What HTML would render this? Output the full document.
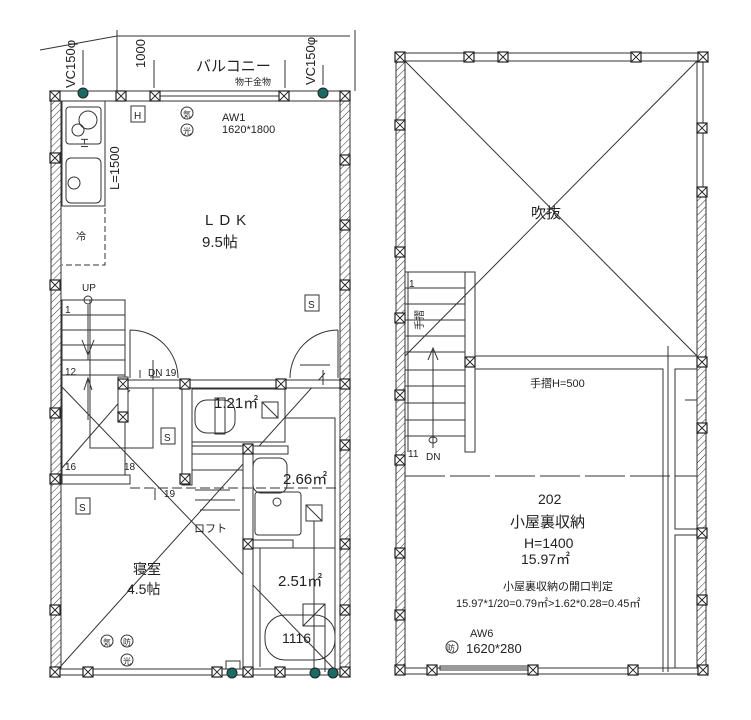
<!DOCTYPE html>
<html><head><meta charset="utf-8"><style>
html,body{margin:0;padding:0;background:#fff}
svg{display:block}
text{font-family:"Liberation Sans","Noto Sans CJK JP",sans-serif;fill:#222}
</style></head><body>
<svg width="751" height="720" viewBox="0 0 751 720" xmlns="http://www.w3.org/2000/svg">
<defs>
<pattern id="h" width="5" height="5" patternUnits="userSpaceOnUse" patternTransform="rotate(45)">
<rect width="5" height="5" fill="#fff"/><line x1="0" y1="0" x2="0" y2="5" stroke="#333" stroke-width="1"/></pattern>
<g id="p"><rect x="-5" y="-5" width="10" height="10" fill="#fff" stroke="#222" stroke-width="1.2"/><path d="M-5-5L5 5M5-5L-5 5" stroke="#222" stroke-width="0.9"/></g>
</defs>
<g stroke="#333" fill="none" stroke-width="1">
<path d="M40 50L117 36L350 36M117 30V91M355 30V91"/>
<line x1="154" y1="60" x2="154" y2="88"/><line x1="285" y1="60" x2="285" y2="88"/>
<line x1="83" y1="50" x2="83" y2="85"/><line x1="323" y1="65" x2="323" y2="85"/>
<rect x="50" y="91" width="300" height="10" fill="#fff"/>
<line x1="160" y1="96" x2="280" y2="96"/>
<rect x="51" y="101" width="10" height="570" fill="url(#h)"/>
<rect x="340" y="101" width="10" height="570" fill="url(#h)"/>
<rect x="50" y="669" width="300" height="6" fill="#fff"/>
<rect x="62" y="101" width="43" height="105"/>
<rect x="66" y="107" width="35" height="37" rx="3"/>
<circle cx="88" cy="120" r="9"/><circle cx="78" cy="130" r="6"/>
<rect x="66" y="158" width="35" height="45" rx="5"/>
<circle cx="74" cy="183" r="6"/>
<path d="M62 206H105V265H62" stroke-dasharray="6 3"/>
<line x1="105" y1="101" x2="105" y2="206"/>
<rect x="131" y="106" width="14" height="16"/>
<rect x="305" y="295" width="14" height="16"/>
<circle cx="187" cy="113" r="6"/><circle cx="187" cy="130" r="6"/>
<rect x="62" y="300" width="63" height="175"/>
<path d="M62 315H125M62 330H125M62 345H125M62 360H125M62 375H125M90 360V448H153V360"/>
<line x1="90" y1="300" x2="90" y2="448"/>
<path d="M88 305V360M82 340L88 355L94 340M88 420V380M84 390L88 378L92 390"/>
<circle cx="88" cy="300" r="4"/>
<path d="M62 468L130 390M62 387L335 670M60 667L325 373"/>
<rect x="62" y="475" width="68" height="9" fill="#fff"/>
<rect x="118" y="377" width="10" height="45" fill="#fff"/>
<path d="M130 330A48 48 0 0 1 178 378M130 330V378"/>
<path d="M338 330A48 48 0 0 0 290 378M338 330V378"/>
<rect x="122" y="380" width="225" height="8" fill="#fff"/>
<rect x="182" y="388" width="10" height="97" fill="#fff"/>
<rect x="192" y="389" width="93" height="53"/>
<rect x="192" y="446" width="96" height="8" fill="#fff"/>
<rect x="243" y="454" width="10" height="216" fill="#fff"/>
<rect x="253" y="540" width="40" height="8" fill="#fff"/>
<rect x="195" y="400" width="40" height="33" rx="12"/>
<rect x="215" y="398" width="10" height="36"/>
<path d="M285 418H335V670M293 548H335M260 548V667"/>
<path d="M192 470H243M195 490H230M195 500H235M200 510H240"/>
<path d="M130 488H340" stroke-dasharray="10 4"/>
<rect x="253" y="458" width="34" height="35" rx="8"/>
<rect x="255" y="492" width="46" height="43" rx="3"/>
<circle cx="277" cy="502" r="4"/>
<rect x="306" y="505" width="16" height="16"/><path d="M306 505L322 521"/>
<rect x="262" y="402" width="16" height="16"/><path d="M262 402L278 418"/>
<rect x="303" y="604" width="22" height="22"/><path d="M303 626L325 604M314 521V672M325 626V672"/>
<rect x="265" y="615" width="70" height="45" rx="20"/>
<rect x="161" y="428" width="14" height="16"/>
<rect x="76" y="498" width="14" height="16"/>
<circle cx="107" cy="641" r="6"/><circle cx="127" cy="641" r="6"/><circle cx="127" cy="660" r="6"/>
<rect x="226" y="661" width="14" height="8"/>
<path d="M300 365L330 365M323 370V385M140 378V370M150 377H160M155 488V500"/>
</g>
<g>
<use href="#p" x="55" y="96"/><use href="#p" x="121" y="96"/><use href="#p" x="155" y="96"/><use href="#p" x="284" y="96"/><use href="#p" x="345" y="96"/>
<use href="#p" x="55" y="158"/><use href="#p" x="345" y="160"/><use href="#p" x="345" y="225"/><use href="#p" x="55" y="285"/><use href="#p" x="345" y="285"/>
<use href="#p" x="123" y="384"/><use href="#p" x="185" y="384"/><use href="#p" x="281" y="384"/><use href="#p" x="345" y="384"/>
<use href="#p" x="123" y="417"/><use href="#p" x="55" y="413"/><use href="#p" x="345" y="445"/><use href="#p" x="248" y="449"/>
<use href="#p" x="185" y="479"/><use href="#p" x="55" y="479"/><use href="#p" x="248" y="544"/><use href="#p" x="345" y="544"/>
<use href="#p" x="55" y="610"/><use href="#p" x="345" y="610"/>
<use href="#p" x="55" y="672"/><use href="#p" x="88" y="672"/><use href="#p" x="217" y="672"/><use href="#p" x="248" y="672"/><use href="#p" x="280" y="672"/><use href="#p" x="345" y="672"/>
</g>
<g fill="#1a6a66" stroke="#222"><circle cx="83" cy="93" r="5"/><circle cx="323" cy="93" r="5"/><circle cx="232" cy="673" r="5"/><circle cx="315" cy="673" r="5"/><circle cx="333" cy="673" r="5"/></g>
<text font-size="13" transform="translate(75,88) rotate(-90)">VC150φ</text>
<text font-size="13" transform="translate(315,85) rotate(-90)">VC150φ</text>
<text font-size="13" transform="translate(145,68) rotate(-90)">1000</text>
<text x="196" y="71" font-size="15">バルコニー</text>
<text x="235" y="85" font-size="9">物干金物</text>
<text x="134" y="119" font-size="10">H</text>
<text x="183" y="117" font-size="8">気</text><text x="183" y="134" font-size="8">光</text>
<text x="222" y="121" font-size="11">AW1</text>
<text x="222" y="133" font-size="11">1620*1800</text>
<text font-size="13" transform="translate(119,190) rotate(-90)">L=1500</text>
<text font-size="10" transform="translate(88,148) rotate(-90)">IH</text>
<text x="76" y="240" font-size="10">冷</text>
<text x="205" y="225" font-size="15" letter-spacing="6">LDK</text>
<text x="202" y="247" font-size="15">9.5帖</text>
<text x="308" y="308" font-size="10">S</text>
<text x="82" y="291" font-size="10">UP</text>
<text x="65" y="313" font-size="10">1</text>
<text x="65" y="375" font-size="10">12</text>
<text x="148" y="376" font-size="10">DN 19</text>
<text x="65" y="470" font-size="10">16</text>
<text x="124" y="470" font-size="10">18</text>
<text x="164" y="497" font-size="10">19</text>
<text x="164" y="441" font-size="10">S</text>
<text x="79" y="511" font-size="10">S</text>
<text x="214" y="408" font-size="15">1.21㎡</text>
<text x="283" y="484" font-size="15">2.66㎡</text>
<text x="278" y="586" font-size="15">2.51㎡</text>
<text x="282" y="643" font-size="14">1116</text>
<text x="194" y="532" font-size="11">ロフト</text>
<text x="133" y="574" font-size="14">寝室</text>
<text x="127" y="594" font-size="14">4.5帖</text>
<text x="103" y="645" font-size="8">気</text><text x="123" y="645" font-size="8">防</text><text x="123" y="664" font-size="8">光</text>

<g stroke="#333" fill="none" stroke-width="1">
<rect x="397" y="53" width="310" height="8" fill="#fff"/>
<rect x="396" y="61" width="9" height="610" fill="url(#h)"/>
<rect x="697" y="190" width="9" height="481" fill="url(#h)"/>
<path d="M697 61V190M703 61V190"/>
<rect x="397" y="668" width="310" height="6" fill="#fff"/>
<path d="M405 61L697 356M697 61L405 356"/>
<path d="M405 272H470M405 288H465M405 304H465M405 320H465M405 336H465M405 352H465M405 370H465M405 386H465M405 403H465M405 420H465M405 436H465"/>
<rect x="465" y="272" width="10" height="180"/>
<path d="M408 272V452"/>
<path d="M433 448V350M428 360L433 348L438 360"/>
<ellipse cx="433" cy="440" rx="4" ry="3"/>
<path d="M475 356H663M475 369H663V672M668 346V672M663 356H697"/>
<rect x="675" y="369" width="22" height="160"/><rect x="675" y="535" width="22" height="133"/>
<path d="M685 400H697"/>
<path d="M405 476H697" stroke-dasharray="40 5"/>
<rect x="440" y="666" width="90" height="4"/>
<circle cx="452" cy="647" r="6"/>
</g>
<g>
<use href="#p" x="400" y="57"/><use href="#p" x="469" y="57"/><use href="#p" x="503" y="57"/><use href="#p" x="636" y="57"/><use href="#p" x="703" y="57"/>
<use href="#p" x="400" y="125"/><use href="#p" x="702" y="128"/><use href="#p" x="400" y="252"/><use href="#p" x="702" y="192"/><use href="#p" x="400" y="318"/>
<use href="#p" x="470" y="362"/><use href="#p" x="702" y="362"/><use href="#p" x="400" y="395"/><use href="#p" x="702" y="428"/><use href="#p" x="400" y="460"/>
<use href="#p" x="702" y="533"/><use href="#p" x="400" y="553"/><use href="#p" x="702" y="600"/><use href="#p" x="400" y="615"/>
<use href="#p" x="400" y="670"/><use href="#p" x="432" y="670"/><use href="#p" x="533" y="670"/><use href="#p" x="633" y="670"/><use href="#p" x="703" y="670"/>
</g>
<text x="531" y="218" font-size="15">吹抜</text>
<text x="409" y="287" font-size="10">1</text>
<text font-size="10" transform="translate(423,330) rotate(-90)">手摺</text>
<text x="408" y="457" font-size="10">11</text>
<text x="426" y="460" font-size="10">DN</text>
<text x="530" y="387" font-size="11">手摺H=500</text>
<text x="538" y="504" font-size="14">202</text>
<text x="510" y="527" font-size="15">小屋裏収納</text>
<text x="524" y="548" font-size="14">H=1400</text>
<text x="521" y="564" font-size="14">15.97㎡</text>
<text x="503" y="590" font-size="11">小屋裏収納の開口判定</text>
<text x="456" y="607" font-size="11">15.97*1/20=0.79㎡&gt;1.62*0.28=0.45㎡</text>
<text x="447" y="651" font-size="8">防</text>
<text x="470" y="637" font-size="11">AW6</text>
<text x="466" y="653" font-size="13">1620*280</text>
</svg>
</body></html>
